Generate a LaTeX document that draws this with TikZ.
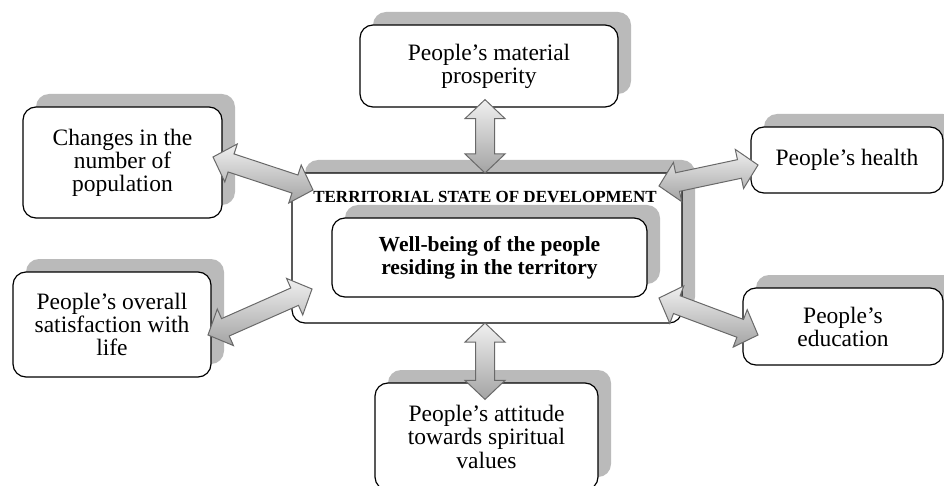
\documentclass[tikz,border=0pt]{standalone}
\usepackage{fontspec}
\setmainfont{Liberation Serif}
\usetikzlibrary{calc,shadows}
\definecolor{shadowgray}{RGB}{186,186,186}
\definecolor{arrowline}{RGB}{105,105,105}
\newcommand{\blockarrow}[2]{%
  \path ($(#1)!19pt!(#2)$) coordinate (ba1) ($(#2)!19pt!(#1)$) coordinate (ba2);
  \draw[arrowstyle] (#1) -- ($(ba1)!20pt!90:(#1)$) -- ($(ba1)!9.5pt!90:(#1)$)
    -- ($(ba2)!9.5pt!-90:(#2)$) -- ($(ba2)!20pt!-90:(#2)$) -- (#2)
    -- ($(ba2)!20pt!90:(#2)$) -- ($(ba2)!9.5pt!90:(#2)$)
    -- ($(ba1)!9.5pt!-90:(#1)$) -- ($(ba1)!20pt!-90:(#1)$) -- cycle;
}
\begin{document}
\begin{tikzpicture}[x=1pt,y=-1pt,
  box/.style={draw=black, line width=1.2pt, rounded corners=13pt, fill=white,
    align=center, inner sep=0pt, font=\fontsize{23.5}{23}\selectfont,
    drop shadow={shadow xshift=13pt, shadow yshift=13pt, fill=shadowgray, opacity=1}},
  arrowstyle/.style={draw=arrowline, line width=1pt, line join=miter,
    top color=gray!12, bottom color=gray!72},
  titletext/.style={font=\bfseries\fontsize{17}{18}\selectfont, inner sep=0pt}
]
\useasboundingbox (0,0) rectangle (944,486);

% outer central box
\node[box, minimum width=390pt, minimum height=150pt] (outer) at (487,248) {};
\node[titletext] (title) at (485,197.5) {TERRITORIAL STATE OF DEVELOPMENT};
\node[box, minimum width=315pt, minimum height=79pt,
  font=\bfseries\fontsize{21.5}{23}\selectfont] (well) at (489.5,257.5)
  {Well-being of the people\\residing in the territory};

% surrounding boxes
\node[box, minimum width=258pt, minimum height=82pt] (mat) at (489,66)
  {People’s material\\prosperity};
\node[box, minimum width=199pt, minimum height=111pt] (pop) at (122.5,162.5)
  {Changes in the\\number of\\population};
\node[box, minimum width=198pt, minimum height=105pt] (sat) at (112,324.5)
  {People’s overall\\satisfaction with\\life};
\node[box, minimum width=192pt, minimum height=66pt] (health) at (847,160)
  {People’s health};
\node[box, minimum width=200pt, minimum height=77pt] (edu) at (843,326.5)
  {People’s\\education};
\node[box, minimum width=223pt, minimum height=107pt,
  font=\fontsize{23.5}{23.5}\selectfont] (spir) at (486.5,436.5)
  {People’s attitude\\towards spiritual\\values};

% arrow end points
\coordinate (matA) at ($(mat.south)+(-4,-8)$);
\coordinate (outA) at (485,173);
\coordinate (outB) at (485,323);
\coordinate (spirA) at ($(spir.north)+(-1.5,17)$);
\coordinate (popA) at (213,157);
\coordinate (outC) at (313,190);
\coordinate (satA) at (208,335);
\coordinate (outD) at (312,289);
\coordinate (outE) at (659,186);
\coordinate (healthA) at (758,165);
\coordinate (outF) at (659,298);
\coordinate (eduA) at (758,335);

\blockarrow{matA}{outA}
\blockarrow{outB}{spirA}
\blockarrow{popA}{outC}
\blockarrow{satA}{outD}
\blockarrow{outE}{healthA}
\blockarrow{outF}{eduA}
\end{tikzpicture}
\end{document}
